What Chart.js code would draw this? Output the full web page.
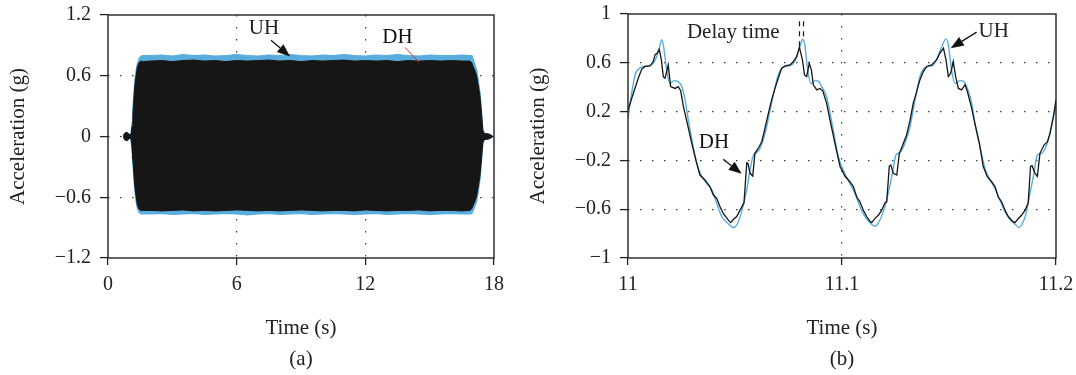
<!DOCTYPE html>
<html>
<head>
<meta charset="utf-8">
<script src="https://cdn.jsdelivr.net/npm/chart.js@4.4.0/dist/chart.umd.min.js"></script>
<style>
  html, body { margin: 0; padding: 0; background: #fff; }
  .panel { position: absolute; top: 0; }
</style>
</head>
<body>
<div class="panel" style="left:0"><canvas id="waveFull" width="520" height="375"></canvas></div>
<div class="panel" style="left:520px"><canvas id="waveZoom" width="556" height="375"></canvas></div>
<script>
// (a) full record: envelope of the UH / DH acceleration traces
const envTime = [0.72, 0.76, 0.81, 0.87, 0.93, 0.98, 1.04, 1.08, 1.12, 1.16, 1.20, 1.25, 1.31, 1.37, 1.45, 1.54, 1.65,
  2.0, 2.5, 3.0, 3.5, 4.0, 4.5, 5.0, 5.5, 6.0, 6.5, 7.0, 7.5, 8.0, 8.5, 9.0, 9.5, 10.0, 10.5, 11.0, 11.5, 12.0, 12.5, 13.0, 13.5, 14.0, 14.5, 15.0, 15.5, 16.0, 16.5,
  16.88, 16.97, 17.03, 17.11, 17.19, 17.27, 17.35, 17.42, 17.48, 17.55, 17.65, 17.75, 17.85, 17.95];
const dhUpper = [0, 0.026, 0.036, 0.04, 0.034, 0.022, 0.012, 0.03, 0.10, 0.22, 0.34, 0.50, 0.60, 0.69, 0.73, 0.745, 0.74,
  0.745, 0.75, 0.74, 0.75, 0.755, 0.745, 0.75, 0.74, 0.75, 0.745, 0.75, 0.755, 0.745, 0.75, 0.74, 0.75, 0.745, 0.75, 0.755, 0.745, 0.75, 0.745, 0.75, 0.74, 0.75, 0.745, 0.75, 0.745, 0.75, 0.745,
  0.745, 0.725, 0.69, 0.65, 0.60, 0.50, 0.39, 0.22, 0.06, 0.03, 0.028, 0.024, 0.014, 0];
const dhLower = [0, -0.026, -0.036, -0.04, -0.034, -0.022, -0.012, -0.03, -0.10, -0.22, -0.34, -0.49, -0.59, -0.68, -0.72, -0.73, -0.73,
  -0.73, -0.735, -0.73, -0.725, -0.735, -0.73, -0.735, -0.73, -0.725, -0.73, -0.735, -0.73, -0.735, -0.73, -0.725, -0.73, -0.735, -0.73, -0.73, -0.735, -0.725, -0.73, -0.735, -0.73, -0.73, -0.725, -0.735, -0.73, -0.73, -0.735,
  -0.73, -0.71, -0.68, -0.64, -0.59, -0.49, -0.38, -0.21, -0.06, -0.03, -0.028, -0.024, -0.014, 0];
const uhUpper = [0, 0.026, 0.036, 0.04, 0.034, 0.022, 0.012, 0.045, 0.14, 0.27, 0.40, 0.55, 0.65, 0.72, 0.77, 0.795, 0.80,
  0.80, 0.805, 0.795, 0.81, 0.80, 0.805, 0.795, 0.80, 0.81, 0.80, 0.795, 0.805, 0.80, 0.81, 0.80, 0.795, 0.805, 0.80, 0.81, 0.80, 0.795, 0.805, 0.80, 0.81, 0.80, 0.795, 0.805, 0.80, 0.80, 0.805,
  0.80, 0.80, 0.765, 0.71, 0.655, 0.55, 0.43, 0.25, 0.07, 0.03, 0.028, 0.024, 0.014, 0];
const uhLower = [0, -0.026, -0.036, -0.04, -0.034, -0.022, -0.012, -0.045, -0.14, -0.27, -0.40, -0.54, -0.64, -0.71, -0.75, -0.765, -0.765,
  -0.765, -0.76, -0.77, -0.765, -0.76, -0.77, -0.765, -0.76, -0.765, -0.775, -0.765, -0.76, -0.77, -0.765, -0.76, -0.77, -0.765, -0.76, -0.765, -0.77, -0.765, -0.76, -0.77, -0.765, -0.76, -0.765, -0.77, -0.765, -0.76, -0.765,
  -0.765, -0.76, -0.73, -0.69, -0.64, -0.54, -0.42, -0.24, -0.07, -0.03, -0.028, -0.024, -0.014, 0];

// (b) close-up between 11.0 s and 11.2 s
const uhTime = [11.0000, 11.0017, 11.0033, 11.0048, 11.0072, 11.0103, 11.0118, 11.0134, 11.0150, 11.0157, 11.0165, 11.0181, 11.0196, 11.0215, 11.0235, 11.0251, 11.0266, 11.0282, 11.0305, 11.0321,
  11.0344, 11.0368, 11.0391, 11.0414, 11.0438, 11.0469, 11.0492, 11.0508, 11.0531, 11.0555, 11.0570, 11.0586, 11.0601, 11.0617, 11.0632, 11.0648, 11.0664, 11.0679, 11.0702, 11.0726,
  11.0757, 11.0773, 11.0788, 11.0806, 11.0816, 11.0826, 11.0840, 11.0855, 11.0874, 11.0892, 11.0905, 11.0928, 11.0959, 11.0983, 11.1006, 11.1037, 11.1060, 11.1084, 11.1107, 11.1130,
  11.1154, 11.1174, 11.1193, 11.1216, 11.1237, 11.1252, 11.1271, 11.1294, 11.1318, 11.1341, 11.1364, 11.1380, 11.1403, 11.1427, 11.1445, 11.1466, 11.1486, 11.1497, 11.1512, 11.1528,
  11.1551, 11.1570, 11.1586, 11.1606, 11.1621, 11.1645, 11.1668, 11.1692, 11.1715, 11.1738, 11.1762, 11.1785, 11.1808, 11.1827, 11.1843, 11.1860, 11.1875, 11.1894, 11.1913, 11.1933,
  11.1956, 11.1972, 11.1988, 11.2000];
const uhAccel = [0.145, 0.35, 0.50, 0.547, 0.57, 0.577, 0.596, 0.65, 0.747, 0.79, 0.747, 0.54, 0.43, 0.454, 0.446, 0.405, 0.30, 0.13, -0.09, -0.22,
  -0.33, -0.39, -0.44, -0.55, -0.66, -0.72, -0.75, -0.73, -0.62, -0.44, -0.28, -0.156, -0.137, -0.10, -0.03, 0.077, 0.213, 0.336, 0.50, 0.564,
  0.577, 0.596, 0.65, 0.747, 0.793, 0.747, 0.54, 0.43, 0.454, 0.446, 0.405, 0.32, 0.05, -0.17, -0.28, -0.39, -0.47, -0.58, -0.66, -0.71,
  -0.74, -0.70, -0.62, -0.47, -0.29, -0.156, -0.137, -0.06, 0.077, 0.295, 0.487, 0.547, 0.57, 0.583, 0.64, 0.733, 0.796, 0.747, 0.54, 0.43,
  0.454, 0.446, 0.39, 0.27, 0.104, -0.088, -0.265, -0.36, -0.43, -0.525, -0.62, -0.684, -0.722, -0.75, -0.717, -0.635, -0.50, -0.334, -0.156, -0.142,
  -0.074, 0.022, 0.159, 0.254];
const dhTime = [11.0000, 11.0025, 11.0048, 11.0064, 11.0079, 11.0103, 11.0118, 11.0126, 11.0137, 11.0146, 11.0156, 11.0165, 11.0173, 11.0188, 11.0199, 11.0220, 11.0235, 11.0246, 11.0259, 11.0277,
  11.0298, 11.0321, 11.0336, 11.0360, 11.0383, 11.0399, 11.0414, 11.0430, 11.0445, 11.0469, 11.0480, 11.0492, 11.0508, 11.0523, 11.0542, 11.0555, 11.0561, 11.0570, 11.0583, 11.0593,
  11.0609, 11.0625, 11.0640, 11.0656, 11.0671, 11.0687, 11.0702, 11.0718, 11.0734, 11.0757, 11.0773, 11.0788, 11.0795, 11.0801, 11.0815, 11.0825, 11.0835, 11.0847, 11.0857, 11.0866,
  11.0882, 11.0897, 11.0910, 11.0928, 11.0944, 11.0967, 11.0991, 11.1014, 11.1037, 11.1053, 11.1069, 11.1084, 11.1100, 11.1115, 11.1131, 11.1139, 11.1154, 11.1170, 11.1185, 11.1200,
  11.1209, 11.1221, 11.1228, 11.1240, 11.1256, 11.1268, 11.1287, 11.1302, 11.1318, 11.1333, 11.1349, 11.1364, 11.1380, 11.1396, 11.1419, 11.1442, 11.1458, 11.1474, 11.1486, 11.1497,
  11.1508, 11.1520, 11.1531, 11.1544, 11.1559, 11.1575, 11.1586, 11.1606, 11.1621, 11.1642, 11.1660, 11.1679, 11.1699, 11.1715, 11.1730, 11.1746, 11.1762, 11.1777, 11.1798, 11.1808,
  11.1824, 11.1839, 11.1855, 11.1870, 11.1881, 11.1888, 11.1902, 11.1913, 11.1925, 11.1944, 11.1960, 11.1972, 11.1988, 11.2000];
const dhAccel = [0.213, 0.35, 0.473, 0.547, 0.57, 0.575, 0.61, 0.665, 0.68, 0.71, 0.624, 0.487, 0.473, 0.583, 0.405, 0.39, 0.405, 0.372, 0.24, 0.104,
  -0.06, -0.224, -0.32, -0.36, -0.416, -0.484, -0.51, -0.58, -0.635, -0.69, -0.71, -0.685, -0.66, -0.61, -0.547, -0.219, -0.224, -0.306, -0.328, -0.142,
  -0.10, -0.047, 0.063, 0.186, 0.296, 0.39, 0.473, 0.555, 0.575, 0.583, 0.61, 0.65, 0.69, 0.728, 0.624, 0.50, 0.487, 0.596, 0.54, 0.42,
  0.378, 0.39, 0.37, 0.27, 0.13, -0.06, -0.25, -0.33, -0.375, -0.415, -0.50, -0.54, -0.61, -0.66, -0.70, -0.71, -0.675, -0.65, -0.61, -0.55,
  -0.54, -0.246, -0.238, -0.306, -0.32, -0.142, -0.06, 0.008, 0.13, 0.27, 0.364, 0.46, 0.528, 0.57, 0.583, 0.624, 0.68, 0.72, 0.624, 0.487,
  0.514, 0.61, 0.487, 0.39, 0.378, 0.42, 0.364, 0.227, 0.104, -0.06, -0.25, -0.334, -0.375, -0.415, -0.50, -0.54, -0.61, -0.66, -0.70, -0.71,
  -0.676, -0.65, -0.61, -0.55, -0.25, -0.243, -0.306, -0.33, -0.142, -0.074, -0.047, 0.022, 0.16, 0.30];
const delayWindow = [11.065, 11.095];

const INK = '#161616';
const SKY = '#58addd';
const TEXT = '#222';
const FONT = '"Liberation Serif", "DejaVu Serif", serif';

Chart.defaults.font.family = FONT;
Chart.defaults.color = TEXT;

const pts = (xs, ys) => xs.map((x, i) => ({ x, y: ys[i] }));

function fmtTick(v) {
  const r = Math.round(v * 10) / 10;
  const s = Number.isInteger(r) ? String(r) : r.toFixed(1);
  return s.replace('-', '\u2212');
}

// dotted grid only between the first and last tick, the frame covers the edges
const innerGrid = c => (c.index > 0 && c.index < c.scale.ticks.length - 1) ? '#3a3a3a' : 'rgba(0,0,0,0)';

// fixed axis boxes so the plot area lands at the same place in both panels
function pinBox(s, w, h) {
  if (w) s.width = w;
  if (h) s.height = h;
  s.paddingTop = s.paddingBottom = s.paddingLeft = s.paddingRight = 0;
}

function axisX(min, max, step, titleLines) {
  return {
    type: 'linear', min, max,
    ticks: { stepSize: step, callback: fmtTick, padding: 8, font: { size: 20 }, color: TEXT, maxRotation: 0, autoSkip: false },
    grid: { color: innerGrid, lineWidth: 1.2, tickColor: TEXT, tickLength: 7, tickWidth: 1.3 },
    border: { display: false, dash: [1.5, 10.5] },
    title: { display: true, text: titleLines, font: { size: 21, lineHeight: '31px' }, color: TEXT, padding: 0 },
    afterFit: s => pinBox(s, 0, 117)
  };
}

function axisY(min, max, step) {
  return {
    type: 'linear', min, max,
    ticks: { stepSize: step, callback: fmtTick, padding: 9, font: { size: 20 }, color: TEXT },
    grid: { color: innerGrid, lineWidth: 1.2, tickColor: TEXT, tickLength: 8, tickWidth: 1.3 },
    border: { display: false, dash: [1.5, 10.5] },
    title: { display: true, text: 'Acceleration (g)', font: { size: 21 }, color: TEXT, padding: { top: 6, bottom: 0 } },
    afterFit: s => pinBox(s, 108, 0)
  };
}

function arrow(ctx, x1, y1, x2, y2, color) {
  const a = Math.atan2(y2 - y1, x2 - x1), len = 13, half = 5;
  const bx = x2 - len * Math.cos(a), by = y2 - len * Math.sin(a);
  ctx.strokeStyle = color;
  ctx.fillStyle = color;
  ctx.lineWidth = 1.3;
  ctx.beginPath(); ctx.moveTo(x1, y1); ctx.lineTo(bx, by); ctx.stroke();
  ctx.beginPath();
  ctx.moveTo(x2, y2);
  ctx.lineTo(bx + half * Math.sin(a), by - half * Math.cos(a));
  ctx.lineTo(bx - half * Math.sin(a), by + half * Math.cos(a));
  ctx.closePath(); ctx.fill();
}

// frame around the plot area plus the text callouts
function overlay(drawNotes) {
  return {
    id: 'overlay',
    afterDatasetsDraw(chart) {
      const { ctx, chartArea: a, scales } = chart;
      ctx.save();
      ctx.strokeStyle = TEXT;
      ctx.lineWidth = 1.4;
      ctx.strokeRect(a.left, a.top, a.right - a.left, a.bottom - a.top);
      ctx.font = '21px ' + FONT;
      ctx.fillStyle = TEXT;
      ctx.textAlign = 'center';
      ctx.textBaseline = 'middle';
      drawNotes(ctx, scales.x, scales.y);
      ctx.restore();
    }
  };
}

const baseOptions = {
  responsive: false,
  animation: false,
  devicePixelRatio: 1,
  plugins: { legend: { display: false }, tooltip: { enabled: false } },
  elements: { point: { radius: 0 } }
};

new Chart(document.getElementById('waveFull'), {
  type: 'line',
  data: {
    datasets: [
      { data: pts(envTime, dhUpper), borderColor: INK, backgroundColor: INK, borderWidth: 1, fill: '+1' },
      { data: pts(envTime, dhLower), borderColor: INK, borderWidth: 1, fill: false },
      { data: pts(envTime, uhUpper), borderColor: SKY, backgroundColor: SKY, borderWidth: 1.2, fill: '+1' },
      { data: pts(envTime, uhLower), borderColor: SKY, borderWidth: 1.2, fill: false }
    ]
  },
  options: {
    ...baseOptions,
    layout: { padding: { top: 15, right: 26, left: 0, bottom: 0 } },
    scales: { x: axisX(0, 18, 6, ['Time (s)', '(a)']), y: axisY(-1.2, 1.2, 0.6) }
  },
  plugins: [overlay((ctx, x, y) => {
    ctx.fillText('UH', x.getPixelForValue(7.27), y.getPixelForValue(1.07));
    arrow(ctx, x.getPixelForValue(7.6), y.getPixelForValue(0.95), x.getPixelForValue(8.49), y.getPixelForValue(0.79), '#111');
    ctx.fillText('DH', x.getPixelForValue(13.5), y.getPixelForValue(0.98));
    ctx.strokeStyle = '#e0302a';
    ctx.lineWidth = 1;
    ctx.beginPath();
    ctx.moveTo(x.getPixelForValue(13.85), y.getPixelForValue(0.88));
    ctx.lineTo(x.getPixelForValue(14.5), y.getPixelForValue(0.735));
    ctx.stroke();
  })]
});

function peakIn(ts, vs, lo, hi) {
  let best = -1;
  ts.forEach((t, i) => { if (t >= lo && t <= hi && (best < 0 || vs[i] > vs[best])) best = i; });
  return { t: ts[best], v: vs[best] };
}

new Chart(document.getElementById('waveZoom'), {
  type: 'line',
  data: {
    datasets: [
      { data: pts(dhTime, dhAccel), borderColor: INK, borderWidth: 1.3, tension: 0, fill: false },
      { data: pts(uhTime, uhAccel), borderColor: SKY, borderWidth: 1.4, cubicInterpolationMode: 'monotone', fill: false }
    ]
  },
  options: {
    ...baseOptions,
    layout: { padding: { top: 14, right: 20, left: 0, bottom: 0 } },
    scales: { x: axisX(11, 11.2, 0.1, ['Time (s)', '(b)']), y: axisY(-1, 1, 0.4) }
  },
  plugins: [overlay((ctx, x, y) => {
    ctx.fillText('Delay time', x.getPixelForValue(11.0492), y.getPixelForValue(0.851));
    // delay markers above the DH and UH peaks
    ctx.save();
    ctx.strokeStyle = INK;
    ctx.lineWidth = 1.2;
    ctx.setLineDash([5, 5]);
    [peakIn(dhTime, dhAccel, ...delayWindow), peakIn(uhTime, uhAccel, ...delayWindow)].forEach(p => {
      const px = Math.round(x.getPixelForValue(p.t)) + 0.5;
      ctx.beginPath();
      ctx.moveTo(px, y.getPixelForValue(0.94));
      ctx.lineTo(px, y.getPixelForValue(p.v) - 1);
      ctx.stroke();
    });
    ctx.restore();
    ctx.fillText('UH', x.getPixelForValue(11.1709), y.getPixelForValue(0.853));
    arrow(ctx, x.getPixelForValue(11.1629), y.getPixelForValue(0.851), x.getPixelForValue(11.1508), y.getPixelForValue(0.72), '#111');
    ctx.fillText('DH', x.getPixelForValue(11.0402), y.getPixelForValue(-0.055));
    arrow(ctx, x.getPixelForValue(11.0445), y.getPixelForValue(-0.19), x.getPixelForValue(11.0531), y.getPixelForValue(-0.31), '#111');
  })]
});
</script>
</body>
</html>
